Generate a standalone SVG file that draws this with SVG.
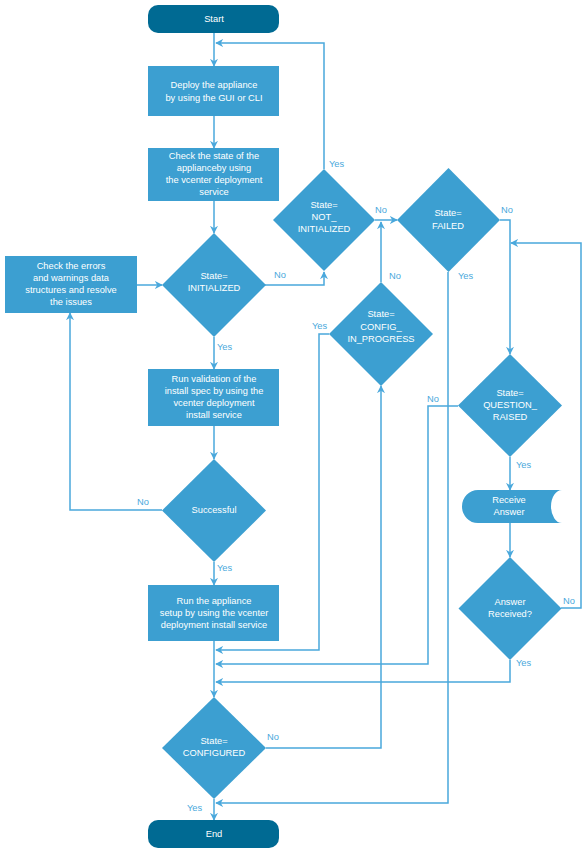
<svg xmlns="http://www.w3.org/2000/svg" width="587" height="854" viewBox="0 0 587 854">
<defs>
<marker id="ah" viewBox="0 0 10 10" refX="9" refY="5" markerWidth="8" markerHeight="8" orient="auto" markerUnits="userSpaceOnUse">
<path d="M0,0 L10,5 L0,10 L3,5 Z" fill="#4aa8dc"/>
</marker>
<style>
.term{fill:#006a93}
.box{fill:#3c9fd1}
.t{font-family:"Liberation Sans",Arial,sans-serif;font-size:9.3px;fill:#ffffff;text-anchor:middle}
.lbl{font-family:"Liberation Sans",Arial,sans-serif;font-size:9.3px;fill:#4aa8dc}
.c{fill:none;stroke:#4aa8dc;stroke-width:1.5;marker-end:url(#ah)}
</style>
</defs>
<rect width="587" height="854" fill="#ffffff"/>
<g id="connectors">
<path class="c" d="M214,33 V66"/>
<path class="c" d="M214,116 V148"/>
<path class="c" d="M214,201 V233"/>
<path class="c" d="M137,285 H162"/>
<path class="c" d="M265,285 H324 V272"/>
<path class="c" d="M324,169 V43 H216"/>
<path class="c" d="M375,220 H397"/>
<path class="c" d="M381,282 V222"/>
<path class="c" d="M214,337 V369"/>
<path class="c" d="M214,426 V459"/>
<path class="c" d="M162,510 H70 V313"/>
<path class="c" d="M214,562 V585"/>
<path class="c" d="M214,641 V697"/>
<path class="c" d="M329,334 H319 V650 H216"/>
<path class="c" d="M458,406 H428 V664 H216"/>
<path class="c" d="M510,660 V682 H216"/>
<path class="c" d="M266,748 H381 V386"/>
<path class="c" d="M448,272 V803 H216"/>
<path class="c" d="M214,799 V820"/>
<path class="c" d="M500,220 H510 V354"/>
<path class="c" d="M510,457 V490"/>
<path class="c" d="M510,523 V557"/>
<path class="c" d="M561,608 H581 V243 H511"/>
<text class="lbl" x="329" y="167">Yes</text>
<text class="lbl" x="375" y="213">No</text>
<text class="lbl" x="501" y="213">No</text>
<text class="lbl" x="274" y="278">No</text>
<text class="lbl" x="389" y="279">No</text>
<text class="lbl" x="458" y="279">Yes</text>
<text class="lbl" x="312" y="329">Yes</text>
<text class="lbl" x="217" y="350">Yes</text>
<text class="lbl" x="137" y="505">No</text>
<text class="lbl" x="217" y="571">Yes</text>
<text class="lbl" x="427" y="402">No</text>
<text class="lbl" x="516" y="468">Yes</text>
<text class="lbl" x="563" y="604">No</text>
<text class="lbl" x="516" y="666">Yes</text>
<text class="lbl" x="267" y="740">No</text>
<text class="lbl" x="187" y="811">Yes</text>
</g>
<g id="start">
<rect class="term" x="148" y="5" width="131" height="28" rx="10"/>
<text class="t" x="214" y="22">Start</text>
</g>
<g id="deploy">
<rect class="box" x="148" y="66" width="131" height="50"/>
<text class="t" x="214" y="88">Deploy the appliance</text>
<text class="t" x="214" y="101">by using the GUI or CLI</text>
</g>
<g id="check">
<rect class="box" x="148" y="148" width="131" height="53"/>
<text class="t" x="214" y="159">Check the state of the</text>
<text class="t" x="214" y="171">applianceby using</text>
<text class="t" x="214" y="183">the vcenter deployment</text>
<text class="t" x="214" y="195">service</text>
</g>
<g id="errors">
<rect class="box" x="5" y="256" width="132" height="57"/>
<text class="t" x="71" y="269">Check the errors</text>
<text class="t" x="71" y="281">and warnings data</text>
<text class="t" x="71" y="293">structures and resolve</text>
<text class="t" x="71" y="305">the issues</text>
</g>
<g id="initialized">
<polygon class="box" points="214,233 266,285 214,337 162,285"/>
<text class="t" x="214" y="279">State=</text>
<text class="t" x="214" y="291">INITIALIZED</text>
</g>
<g id="not_initialized">
<polygon class="box" points="324,169 375,220 324,271 273,220"/>
<text class="t" x="324" y="208">State=</text>
<text class="t" x="324" y="220">NOT_</text>
<text class="t" x="324" y="232">INITIALIZED</text>
</g>
<g id="failed">
<polygon class="box" points="448.5,168 500,220 448.5,272 397,220"/>
<text class="t" x="448" y="216">State=</text>
<text class="t" x="448" y="229">FAILED</text>
</g>
<g id="config_in_progress">
<polygon class="box" points="381,282 433,334 381,386 329,334"/>
<text class="t" x="381" y="317">State=</text>
<text class="t" x="381" y="330">CONFIG_</text>
<text class="t" x="381" y="342">IN_PROGRESS</text>
</g>
<g id="validation">
<rect class="box" x="148" y="369" width="131" height="57"/>
<text class="t" x="214" y="382">Run validation of the</text>
<text class="t" x="214" y="394">install spec by using the</text>
<text class="t" x="214" y="406">vcenter deployment</text>
<text class="t" x="214" y="418">install service</text>
</g>
<g id="successful">
<polygon class="box" points="214,459 266,510.5 214,562 162,510.5"/>
<text class="t" x="214" y="513">Successful</text>
</g>
<g id="setup">
<rect class="box" x="148" y="585" width="131" height="56"/>
<text class="t" x="214" y="604">Run the appliance</text>
<text class="t" x="214" y="616">setup by using the vcenter</text>
<text class="t" x="214" y="628">deployment install service</text>
</g>
<g id="question_raised">
<polygon class="box" points="510,354 562,405.5 510,457 458,405.5"/>
<text class="t" x="510" y="396">State=</text>
<text class="t" x="510" y="408">QUESTION_</text>
<text class="t" x="510" y="420">RAISED</text>
</g>
<g id="receive_answer">
<path class="box" d="M478,490 H562 A11,16.5 0 0 0 562,523 H478 A16,16.5 0 0 1 478,490 Z"/>
<text class="t" x="509" y="503">Receive</text>
<text class="t" x="509" y="515">Answer</text>
</g>
<g id="answer_received">
<polygon class="box" points="510,557 561.5,608.5 510,660 458.5,608.5"/>
<text class="t" x="510" y="605">Answer</text>
<text class="t" x="510" y="617">Received?</text>
</g>
<g id="configured">
<polygon class="box" points="214,697 266,748 214,799 162,748"/>
<text class="t" x="214" y="744">State=</text>
<text class="t" x="214" y="756">CONFIGURED</text>
</g>
<g id="end">
<rect class="term" x="148" y="820" width="131" height="28" rx="10"/>
<text class="t" x="214" y="837">End</text>
</g>
</svg>
